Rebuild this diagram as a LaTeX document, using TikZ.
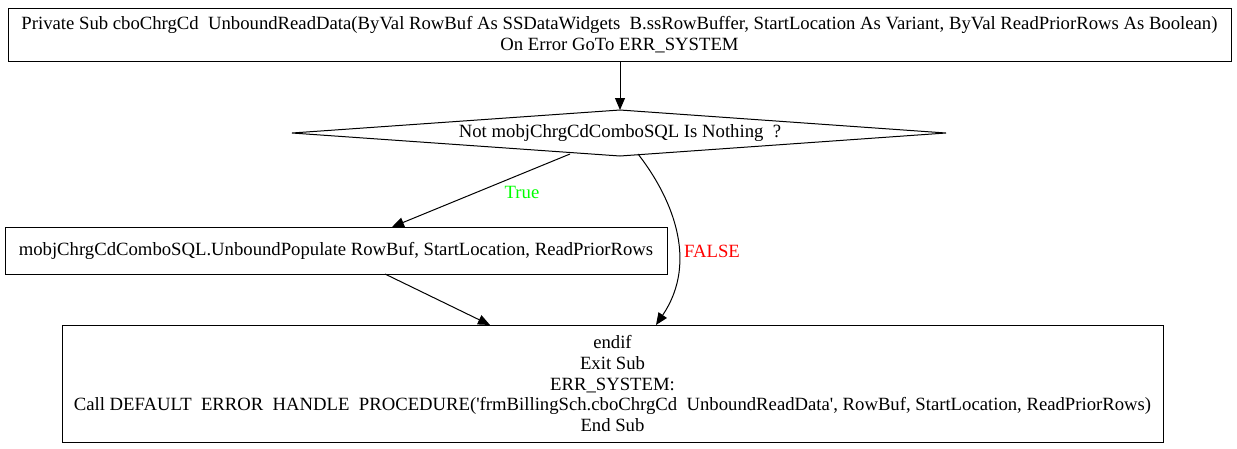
\documentclass[tikz,border=0pt]{standalone}
\usepackage{fontspec}
\setmainfont{Liberation Serif}
\usetikzlibrary{arrows.meta,shapes.geometric}
\begin{document}
\begin{tikzpicture}[x=1pt,y=-1pt,line width=1pt,
  every node/.style={font=\fontsize{18.7}{20.6}\selectfont},
  box/.style={draw,rectangle,inner sep=0pt,align=center},
  arr/.style={-{Triangle[length=12pt,width=10pt]}}]
\useasboundingbox (0,0) rectangle (1237,448);
\node[box,minimum width=1223pt,minimum height=53pt] (start) at (619.5,34.5)
  {Private Sub cboChrgCd\ \ UnboundReadData(ByVal RowBuf As SSDataWidgets\ \ B.ssRowBuffer, StartLocation As Variant, ByVal ReadPriorRows As Boolean)\\On Error GoTo ERR\_SYSTEM};
\coordinate (dT) at (620,110);
\coordinate (dB) at (620,156);
\draw (292,133) -- (dT) -- (946,133) -- (dB) -- cycle;
\node (cond) at (620,133) {Not mobjChrgCdComboSQL Is Nothing\ \ ?};
\node[box,minimum width=662pt,minimum height=47pt] (pop) at (336,250.5)
  {mobjChrgCdComboSQL.UnboundPopulate RowBuf, StartLocation, ReadPriorRows};
\node[box,minimum width=1101pt,minimum height=117pt] (end) at (612.5,383.5)
  {endif\\Exit Sub\\ERR\_SYSTEM:\\Call DEFAULT\ \ ERROR\ \ HANDLE\ \ PROCEDURE(\textquotesingle frmBillingSch.cboChrgCd\ \ UnboundReadData\textquotesingle, RowBuf, StartLocation, ReadPriorRows)\\End Sub};
\coordinate (t1) at (570,154);
\coordinate (f1) at (638,154);
\draw[arr] (start.south -| dT) -- (dT);
\draw[arr] (t1) -- (392,227) coordinate (t2);
\node[text=green] (tl) at (522,192) {True};
\draw[arr] (f1) .. controls (670,195) and (700,260) .. (656,325) coordinate (f2);
\node[text=red] (fl) at (712,251) {FALSE};
\draw[arr] (385,274) coordinate (p1) -- (490,325) coordinate (p2);
\end{tikzpicture}
\end{document}
